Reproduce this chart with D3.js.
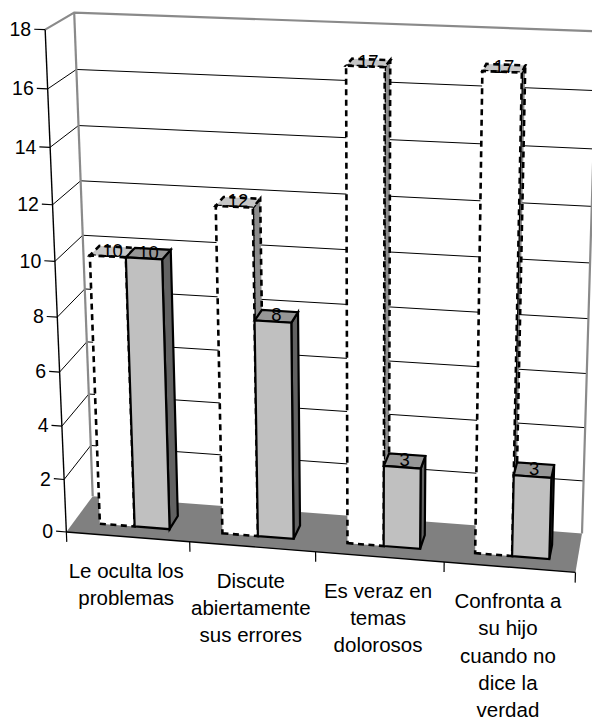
<!DOCTYPE html>
<html><head><meta charset="utf-8">
<script src="https://cdn.jsdelivr.net/npm/d3@7"></script>
<style>html,body{margin:0;padding:0;background:#fff;} svg{display:block;}</style>
</head><body>
<svg id="chart" width="592" height="722"></svg>
<script>
// ---------- data ----------
const categories = [
  ["Le oculta los", "problemas"],
  ["Discute", "abiertamente", "sus errores"],
  ["Es veraz en", "temas", "dolorosos"],
  ["Confronta a", "su hijo", "cuando no", "dice la", "verdad"]
];
const seriesNames = ["Serie 1", "Serie 2"];
const seriesA = [10, 12, 17, 17];
const seriesB = [10, 8, 3, 3];
const yTicks = [0, 2, 4, 6, 8, 10, 12, 14, 16, 18];
const yMax = 18;

// ---------- 3D view: perspective camera matrix (3x4, last entry 1) ----------
// maps normalized box coordinates (x: categories 0..1, y: value 0..1, z: depth 0..1) to pixels
const camera = [
  485.6422, -24.14887, 30.16670, 66.35160,
  17.07074, -504.3039, -15.48887, 532.0201,
  -0.04076213, -0.06557888, 0.04104630
];
function proj(x, y, z) {
  const P = camera;
  const w = P[8] * x + P[9] * y + P[10] * z + 1;
  return [(P[0] * x + P[1] * y + P[2] * z + P[3]) / w, (P[4] * x + P[5] * y + P[6] * z + P[7]) / w];
}
const pts = arr => arr.map(p => proj(p[0], p[1], p[2]).join(",")).join(" ");

const yScale = d3.scaleLinear().domain([0, yMax]).range([0, 1]);
const catNames = categories.map(c => c.join(" "));
const xBand = d3.scaleBand().domain(catNames).range([0, 1]);
const xInner = d3.scaleBand().domain(seriesNames).range([0, xBand.bandwidth()]).paddingInner(0).paddingOuter(0.75);
const zFront = 0.28, zBack = 0.64;

const svg = d3.select("#chart");
const FONT = "'Liberation Sans', Arial, sans-serif";

// walls
svg.append("polygon").attr("points", pts([[0,0,1],[1,0,1],[1,1,1],[0,1,1]])).attr("fill", "#fff");
svg.append("polygon").attr("points", pts([[0,0,0],[0,0,1],[0,1,1],[0,1,0]])).attr("fill", "#fff");
// floor
svg.append("polygon").attr("points", pts([[0,0,0],[1,0,0],[1,0,1],[0,0,1]])).attr("fill", "#808080");

// gridlines
yTicks.filter(t => t > 0 && t < yMax).forEach(t => {
  const y = yScale(t);
  svg.append("polyline").attr("points", pts([[0,y,0],[0,y,1],[1,y,1]]))
    .attr("fill", "none").attr("stroke", "#000").attr("stroke-width", 1);
});
// wall edges
svg.append("polyline").attr("points", pts([[0,1,0],[0,1,1],[1,1,1],[1,0,1]]))
  .attr("fill", "none").attr("stroke", "#8a8a8a").attr("stroke-width", 2.2);
svg.append("polyline").attr("points", pts([[0,0,1],[0,1,1]]))
  .attr("fill", "none").attr("stroke", "#8a8a8a").attr("stroke-width", 2.2);

// value axis
svg.append("polyline").attr("points", pts([[0,0,0],[0,1,0]]))
  .attr("fill", "none").attr("stroke", "#000").attr("stroke-width", 1.4);
yTicks.forEach(t => {
  const y = yScale(t);
  const a = proj(0, y, 0), b = proj(-0.021, y, 0);
  svg.append("line").attr("x1", a[0]).attr("y1", a[1]).attr("x2", b[0]).attr("y2", b[1])
    .attr("stroke", "#000").attr("stroke-width", 1.2);
  svg.append("text").attr("x", b[0] - 3).attr("y", b[1]).attr("dy", "0.36em")
    .attr("text-anchor", "end").attr("font-family", FONT).attr("font-size", 19.5).text(t);
});

// category axis
svg.append("polyline").attr("points", pts([[0,0,0],[1,0,0]]))
  .attr("fill", "none").attr("stroke", "#000").attr("stroke-width", 1.4);
catNames.map(n => xBand(n)).concat([1]).forEach(x => {
  const a = proj(x, 0, 0), b = proj(x, -0.021, 0);
  svg.append("line").attr("x1", a[0]).attr("y1", a[1]).attr("x2", b[0]).attr("y2", b[1])
    .attr("stroke", "#000").attr("stroke-width", 1.2);
});
categories.forEach((lines, i) => {
  const cx = xBand(catNames[i]) + xBand.bandwidth() / 2;
  const a = proj(cx, 0, 0);
  const t = svg.append("text").attr("font-family", FONT).attr("font-size", 20.5).attr("text-anchor", "middle");
  lines.forEach((l, k) => {
    t.append("tspan").attr("x", a[0] - 1.5).attr("y", a[1] + 41 + k * 27.2).text(l);
  });
});

// bars
const styles = [
  { front: "#ffffff", top: "#c6c6c6", side: "#8c8c8c", dash: "6,4.5", sw: 2.6 },
  { front: "#c0c0c0", top: "#969696", side: "#626262", dash: null, sw: 2.2 }
];
const series = [seriesA, seriesB];
catNames.forEach((name, i) => {
  series.forEach((vals, s) => {
    const st = styles[s];
    const x0 = xBand(name) + xInner(seriesNames[s]);
    const x1 = x0 + xInner.bandwidth();
    const y1 = yScale(vals[i]);
    const faces = [
      { f: st.side, p: [[x1,0,zFront],[x1,0,zBack],[x1,y1,zBack],[x1,y1,zFront]] },
      { f: st.top, p: [[x0,y1,zFront],[x1,y1,zFront],[x1,y1,zBack],[x0,y1,zBack]] },
      { f: st.front, p: [[x0,0,zFront],[x1,0,zFront],[x1,y1,zFront],[x0,y1,zFront]] }
    ];
    const g = svg.append("g");
    faces.forEach(fc => {
      g.append("polygon").attr("points", pts(fc.p)).attr("fill", fc.f)
        .attr("stroke", "#000").attr("stroke-width", st.sw).attr("stroke-linejoin", "miter")
        .attr("stroke-dasharray", st.dash);
    });
  });
});
// data labels
catNames.forEach((name, i) => {
  series.forEach((vals, s) => {
    const xc = xBand(name) + xInner(seriesNames[s]) + xInner.bandwidth() / 2;
    const c = proj(xc, yScale(vals[i]), (zFront + zBack) / 2);
    svg.append("text").attr("x", c[0]).attr("y", c[1] - 1.5).attr("dy", "0.36em")
      .attr("text-anchor", "middle").attr("font-family", FONT).attr("font-size", 18.5).text(vals[i]);
  });
});
</script>
</body></html>
